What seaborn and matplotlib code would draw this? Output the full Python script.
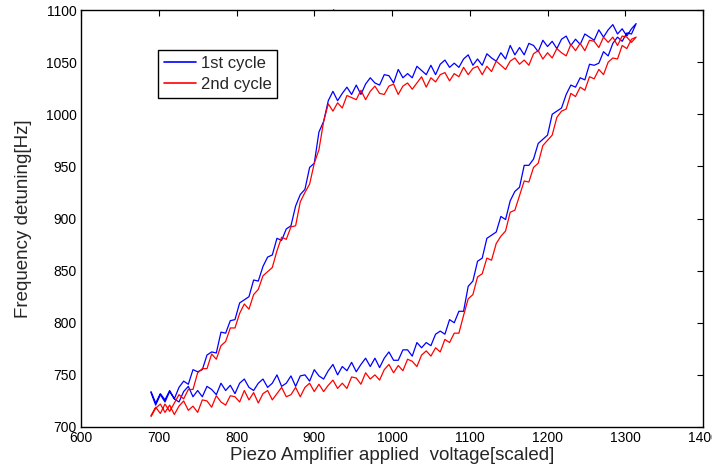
import matplotlib
matplotlib.use("Agg")
import matplotlib.pyplot as plt
import seaborn as sns
import pandas as pd

# ---- data ----
voltage = [690, 696, 702, 708, 714, 720, 726, 732, 738, 744,
           750, 756, 762, 768, 774, 780, 786, 792, 798, 804,
           810, 816, 822, 828, 834, 840, 846, 852, 858, 864,
           870, 876, 882, 888, 894, 900, 906, 912, 918, 924,
           930, 936, 942, 948, 954, 960, 966, 972, 978, 984,
           990, 996, 1002, 1008, 1014, 1020, 1026, 1032, 1038, 1044,
           1050, 1056, 1062, 1068, 1074, 1080, 1086, 1092, 1098, 1104,
           1110, 1116, 1122, 1128, 1134, 1140, 1146, 1152, 1158, 1164,
           1170, 1176, 1182, 1188, 1194, 1200, 1206, 1212, 1218, 1224,
           1230, 1236, 1242, 1248, 1254, 1260, 1266, 1272, 1278, 1284,
           1290, 1296, 1302, 1308, 1314]

# 1st cycle, rising (lower) branch
c1_rise = [733, 721, 731, 724, 734, 727, 724, 734, 739, 729,
           735, 729, 739, 736, 731, 742, 735, 740, 732, 742,
           746, 738, 735, 742, 746, 738, 742, 750, 739, 742,
           749, 739, 749, 750, 744, 755, 749, 746, 754, 760,
           750, 758, 754, 762, 753, 760, 766, 758, 766, 757,
           766, 772, 764, 764, 774, 774, 768, 781, 776, 781,
           778, 789, 792, 789, 803, 800, 811, 811, 835, 840,
           859, 862, 881, 884, 887, 902, 899, 917, 926, 930,
           951, 951, 957, 972, 976, 980, 1000, 1003, 1006, 1019,
           1028, 1026, 1035, 1033, 1048, 1047, 1049, 1060, 1056, 1068,
           1074, 1070, 1078, 1077, 1087]
# 1st cycle, falling (upper) branch, listed at the same voltages
c1_fall = [734, 723, 732, 726, 735, 727, 738, 744, 741, 755,
           753, 755, 769, 772, 771, 791, 790, 802, 803, 819,
           822, 825, 841, 840, 854, 863, 865, 881, 879, 890,
           893, 912, 923, 928, 949, 953, 983, 993, 1013, 1022,
           1013, 1020, 1026, 1019, 1028, 1019, 1029, 1035, 1030, 1028,
           1038, 1037, 1030, 1043, 1035, 1039, 1035, 1046, 1042, 1038,
           1047, 1038, 1048, 1052, 1045, 1049, 1045, 1053, 1057, 1047,
           1053, 1047, 1058, 1054, 1051, 1059, 1053, 1066, 1057, 1064,
           1057, 1068, 1066, 1060, 1071, 1065, 1070, 1063, 1072, 1075,
           1066, 1072, 1067, 1077, 1074, 1071, 1081, 1074, 1081, 1086,
           1077, 1082, 1075, 1082, 1087]
# 2nd cycle, rising (lower) branch
c2_rise = [710, 718, 722, 714, 721, 712, 720, 725, 716, 720,
           714, 726, 725, 719, 730, 724, 721, 730, 729, 724,
           735, 726, 733, 723, 732, 735, 726, 732, 738, 729,
           731, 738, 729, 738, 742, 734, 741, 734, 740, 745,
           737, 742, 737, 748, 747, 741, 752, 746, 750, 745,
           755, 760, 752, 759, 754, 765, 763, 758, 769, 773,
           768, 776, 772, 784, 781, 790, 790, 807, 823, 827,
           844, 847, 862, 860, 876, 883, 888, 906, 908, 922,
           936, 935, 949, 953, 970, 975, 980, 997, 1003, 1005,
           1020, 1017, 1026, 1023, 1036, 1034, 1043, 1038, 1050, 1054,
           1053, 1066, 1063, 1072, 1074]
# 2nd cycle, falling (upper) branch, listed at the same voltages
c2_fall = [711, 719, 713, 722, 715, 723, 731, 727, 736, 736,
           752, 756, 756, 770, 765, 778, 782, 795, 795, 809,
           818, 813, 827, 832, 845, 849, 853, 869, 882, 880,
           892, 893, 916, 925, 933, 953, 966, 993, 1010, 1003,
           1011, 1006, 1018, 1016, 1014, 1023, 1014, 1022, 1027, 1020,
           1019, 1027, 1029, 1019, 1027, 1030, 1024, 1030, 1036, 1026,
           1035, 1031, 1038, 1040, 1032, 1039, 1036, 1045, 1038, 1044,
           1046, 1038, 1046, 1041, 1051, 1047, 1043, 1051, 1054, 1048,
           1052, 1047, 1058, 1061, 1053, 1059, 1054, 1063, 1059, 1056,
           1067, 1061, 1068, 1061, 1071, 1070, 1064, 1074, 1069, 1074,
           1066, 1075, 1074, 1069, 1074]

cycle_names = ["1st cycle", "2nd cycle"]
x_ticks = [600, 700, 800, 900, 1000, 1100, 1200, 1300, 1400]
y_ticks = [700, 750, 800, 850, 900, 950, 1000, 1050, 1100]
x_title = "Piezo Amplifier applied  voltage[scaled]"
y_title = "Frequency detuning[Hz]"

# ---- build long table: each cycle is a closed loop (rise, then fall back) ----
frames = []
for name, rise, fall in [(cycle_names[0], c1_rise, c1_fall),
                         (cycle_names[1], c2_rise, c2_fall)]:
    frames.append(pd.DataFrame({
        "voltage": voltage + voltage[::-1],
        "freq": rise + fall[::-1],
        "cycle": name,
    }))
df = pd.concat(frames, ignore_index=True)

sns.set_style("white")
plt.rcParams["font.family"] = ["Liberation Sans", "DejaVu Sans"]

fig = plt.figure(figsize=(7.12, 4.66), dpi=100)
ax = fig.add_axes([0.1138, 0.0837, 0.8736, 0.8948])

sns.lineplot(data=df, x="voltage", y="freq", hue="cycle", sort=False,
             estimator=None, palette=["#0000ff", "#ff0000"], linewidth=0.9,
             ax=ax)

ax.set_xlim(600, 1400)
ax.set_ylim(700, 1100)
ax.set_xticks(x_ticks)
ax.set_yticks(y_ticks)
ax.tick_params(direction="in", length=4, width=0.8, top=True, right=True,
               labelsize=10, colors="black", pad=3)
for s in ax.spines.values():
    s.set_visible(True)
    s.set_color("black")
    s.set_linewidth(1.0)
ax.set_xlabel(x_title, fontsize=13.5, labelpad=1)
ax.set_ylabel(y_title, fontsize=13.5, labelpad=10)

leg = ax.legend(loc="upper left", bbox_to_anchor=(0.124, 0.904),
                frameon=True, fancybox=False, shadow=False, fontsize=12,
                handlelength=1.9, borderpad=0.35, labelspacing=0.35,
                handletextpad=0.3, borderaxespad=0)
leg.get_frame().set_edgecolor("black")
leg.get_frame().set_linewidth(1.0)
leg.get_frame().set_alpha(1)
for h in leg.get_lines():
    h.set_linewidth(1.2)

fig.text(0.468, 0.985, ".", fontsize=9, ha="center", va="center")

fig.savefig("out.png", dpi=100)
